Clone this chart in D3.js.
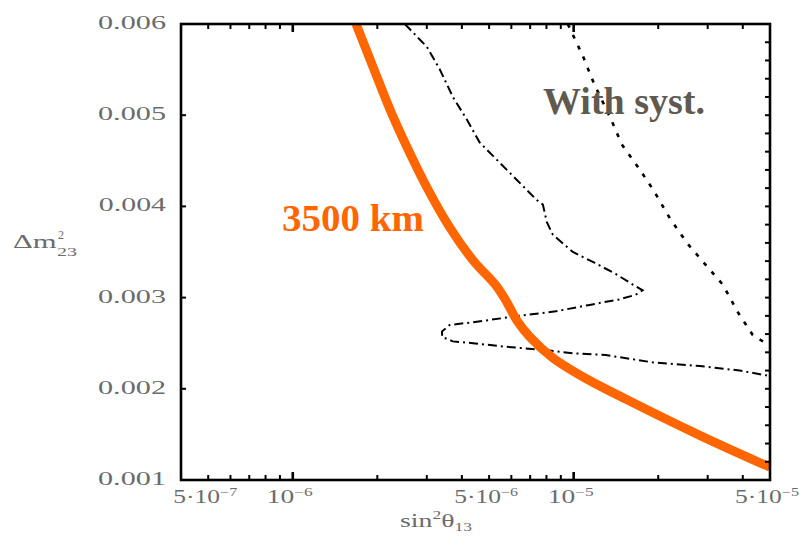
<!DOCTYPE html>
<html>
<head>
<meta charset="utf-8">
<script src="https://cdn.jsdelivr.net/npm/d3@7"></script>
<style>
  body { margin: 0; background: #fff; }
  svg { display: block; }
</style>
</head>
<body>
<svg id="chart" width="811" height="545"></svg>
<script>
// ---- data ----
const xDomain = [4e-7, 5e-5];
const yDomain = [0.001, 0.006];

const xLabelValues = [5e-7, 1e-6, 5e-6, 1e-5, 5e-5];
const xLabelMantissa = ["5·10", "10", "5·10", "10", "5·10"];
const xLabelExponent = ["−7", "−6", "−6", "−5", "−5"];
const xMajorTicks = [1e-6, 1e-5];

const yTickValues = [0.001, 0.002, 0.003, 0.004, 0.005, 0.006];
const yTickLabels = ["0.001", "0.002", "0.003", "0.004", "0.005", "0.006"];

// 3500 km baseline sensitivity curve
const baselineX = [1.68e-6, 1.93e-6, 2.22e-6, 2.55e-6, 3.0e-6, 3.62e-6, 4.38e-6, 5.33e-6,
  5.78e-6, 6.28e-6, 6.98e-6, 8.43e-6, 1.11e-5, 1.55e-5, 2.81e-5, 5.0e-5];
const baselineY = [0.006, 0.00553, 0.00506, 0.00465, 0.00421, 0.00377, 0.00341, 0.00312,
  0.00295, 0.00275, 0.00257, 0.00234, 0.00211, 0.00188, 0.00149, 0.00114];

// inner contour (dash-dot)
const innerX = [2.506e-6, 3.0e-6, 3.34e-6, 3.715e-6, 4.17e-6, 4.63e-6, 5.33e-6, 6.28e-6,
  7.39e-6, 7.77e-6, 8.02e-6, 8.43e-6, 9.93e-6, 1.19e-5, 1.41e-5, 1.61e-5, 1.76e-5, 1.66e-5,
  1.45e-5, 1.14e-5, 8.64e-6, 6.07e-6, 4.38e-6, 3.62e-6, 3.40e-6, 3.40e-6, 3.715e-6, 4.38e-6,
  5.78e-6, 7.58e-6, 9.93e-6, 1.30e-5, 1.91e-5, 2.81e-5, 3.90e-5, 5.0e-5];
const innerY = [0.006, 0.00575, 0.0055, 0.0052, 0.00495, 0.0047, 0.00451, 0.00429,
  0.00407, 0.00402, 0.00383, 0.00369, 0.0035, 0.00338, 0.00326, 0.00315, 0.00308, 0.00303,
  0.00298, 0.00292, 0.00285, 0.00279, 0.00273, 0.0027, 0.00263, 0.00257, 0.00252, 0.0025,
  0.00246, 0.00243, 0.00239, 0.00237, 0.00229, 0.00225, 0.0022, 0.00214];

// outer contour with systematics (dotted)
const systX = [9.53e-6, 1.078e-5, 1.18e-5, 1.356e-5, 1.484e-5, 1.705e-5, 1.93e-5, 2.20e-5,
  2.53e-5, 2.93e-5, 3.40e-5, 3.84e-5, 4.34e-5, 5.0e-5];
const systY = [0.006, 0.00565, 0.00535, 0.00496, 0.00468, 0.00442, 0.00417, 0.00387,
  0.0036, 0.00337, 0.00314, 0.00284, 0.00259, 0.00247];

// ---- layout ----
const plot = { left: 181, right: 770, top: 24, bottom: 480 };
const svg = d3.select("#chart");

const x = d3.scaleLog().domain(xDomain).range([plot.left, plot.right]);
const y = d3.scaleLinear().domain(yDomain).range([plot.bottom, plot.top]);

const labelColor = "#6b6b6b";
const serif = "'Liberation Serif', 'Times New Roman', serif";

// stretch a text element horizontally to a given width around its anchor
function fitWidth(sel, width) {
  const w = sel.node().getBBox().width;
  const s = width / w;
  const t = sel.attr("data-t");
  sel.attr("transform", t + ` scale(${s},1)`);
}

// clip for curves
svg.append("defs").append("clipPath").attr("id", "plotClip")
  .append("rect")
  .attr("x", plot.left).attr("y", plot.top)
  .attr("width", plot.right - plot.left).attr("height", plot.bottom - plot.top);

const curves = svg.append("g").attr("clip-path", "url(#plotClip)");

const line = d3.line().x(d => x(d[0])).y(d => y(d[1]));

curves.append("path")
  .datum(d3.zip(systX, systY))
  .attr("d", line.curve(d3.curveLinear))
  .attr("fill", "none").attr("stroke", "#000")
  .attr("stroke-width", 2.6).attr("stroke-dasharray", "4,8");

curves.append("path")
  .datum(d3.zip(innerX, innerY))
  .attr("d", line.curve(d3.curveLinear))
  .attr("fill", "none").attr("stroke", "#000")
  .attr("stroke-width", 2).attr("stroke-dasharray", "9,4,2,4");

curves.append("path")
  .datum(d3.zip(baselineX, baselineY))
  .attr("d", line.curve(d3.curveCatmullRom))
  .attr("fill", "none").attr("stroke", "#ff6600")
  .attr("stroke-width", 9).attr("stroke-linejoin", "round");

// frame
svg.append("rect")
  .attr("x", plot.left).attr("y", plot.top)
  .attr("width", plot.right - plot.left).attr("height", plot.bottom - plot.top)
  .attr("fill", "none").attr("stroke", "#000").attr("stroke-width", 2.6);

// ---- ticks (drawn inward, on top of the frame) ----
const minorX = [];
for (let e = -7; e <= -5; e++) {
  for (let m = 2; m <= 9; m++) {
    const v = m * Math.pow(10, e);
    if (v >= xDomain[0] && v < xDomain[1] && !xMajorTicks.includes(v)) minorX.push(v);
  }
}
const ticks = svg.append("g").attr("stroke", "#000").attr("stroke-width", 2);

[[plot.bottom, -1], [plot.top, 1]].forEach(([yy, dir]) => {
  ticks.selectAll(null).data(minorX).enter().append("line")
    .attr("x1", d => x(d)).attr("x2", d => x(d))
    .attr("y1", yy).attr("y2", yy + dir * 5);
  ticks.selectAll(null).data(xMajorTicks).enter().append("line")
    .attr("x1", d => x(d)).attr("x2", d => x(d))
    .attr("y1", yy).attr("y2", yy + dir * 8)
    .attr("stroke-width", 2.6);
});

// left: one tick per label
ticks.selectAll(null).data(yTickValues.slice(1, -1)).enter().append("line")
  .attr("x1", plot.left).attr("x2", plot.left + 5)
  .attr("y1", d => y(d)).attr("y2", d => y(d));

// right: finer ticks
const rightTicks = d3.range(1, 25).map(i => +(0.001 + i * 0.0002).toFixed(4));
ticks.selectAll(null).data(rightTicks).enter().append("line")
  .attr("x1", plot.right).attr("x2", plot.right - 5)
  .attr("y1", d => y(d)).attr("y2", d => y(d));

// ---- tick labels ----
yTickValues.forEach((v, i) => {
  const t = `translate(166,${y(v) + 5})`;
  const el = svg.append("text")
    .attr("data-t", t).attr("transform", t)
    .attr("text-anchor", "end")
    .attr("font-family", serif).attr("font-size", 19)
    .attr("fill", labelColor)
    .text(yTickLabels[i]);
  fitWidth(el, 68);
});

xLabelValues.forEach((v, i) => {
  const t = `translate(${x(v) - 3},503)`;
  const el = svg.append("text")
    .attr("data-t", t).attr("transform", t)
    .attr("text-anchor", "middle")
    .attr("font-family", serif).attr("font-size", 19)
    .attr("fill", labelColor);
  el.append("tspan").text(xLabelMantissa[i]);
  el.append("tspan").attr("font-size", 12).attr("dy", -7).text(xLabelExponent[i]);
  fitWidth(el, xLabelMantissa[i].length > 2 ? 64 : 46);
});

// ---- axis titles ----
{
  const t = "translate(436,527)";
  const el = svg.append("text")
    .attr("data-t", t).attr("transform", t)
    .attr("text-anchor", "middle")
    .attr("font-family", serif).attr("font-size", 19)
    .attr("fill", labelColor);
  el.append("tspan").text("sin");
  el.append("tspan").attr("font-size", 12).attr("dy", -8).text("2");
  el.append("tspan").attr("dy", 8).text("θ");
  el.append("tspan").attr("font-size", 12).attr("dy", 4).text("13");
  fitWidth(el, 72);
}
{
  const t = "translate(13,248)";
  const el = svg.append("text")
    .attr("data-t", t).attr("transform", t)
    .attr("font-family", serif).attr("font-size", 19)
    .attr("fill", labelColor);
  el.append("tspan").text("Δm");
  fitWidth(el, 44);
  svg.append("text").attr("x", 58).attr("y", 239)
    .attr("font-family", serif).attr("font-size", 12).attr("fill", labelColor).text("2");
  const sub = svg.append("text")
    .attr("data-t", "translate(57,256)").attr("transform", "translate(57,256)")
    .attr("font-family", serif).attr("font-size", 12).attr("fill", labelColor).text("23");
  fitWidth(sub, 20);
}

// ---- annotations ----
{
  const t = "translate(282,231)";
  const el = svg.append("text")
    .attr("data-t", t).attr("transform", t)
    .attr("font-family", serif).attr("font-size", 38).attr("font-weight", "bold")
    .attr("fill", "#ff6600").text("3500 km");
  fitWidth(el, 142);
}
{
  const t = "translate(543,114)";
  const el = svg.append("text")
    .attr("data-t", t).attr("transform", t)
    .attr("font-family", serif).attr("font-size", 38).attr("font-weight", "bold")
    .attr("fill", "#5f5a50").text("With syst.");
  fitWidth(el, 162);
}
</script>
</body>
</html>
